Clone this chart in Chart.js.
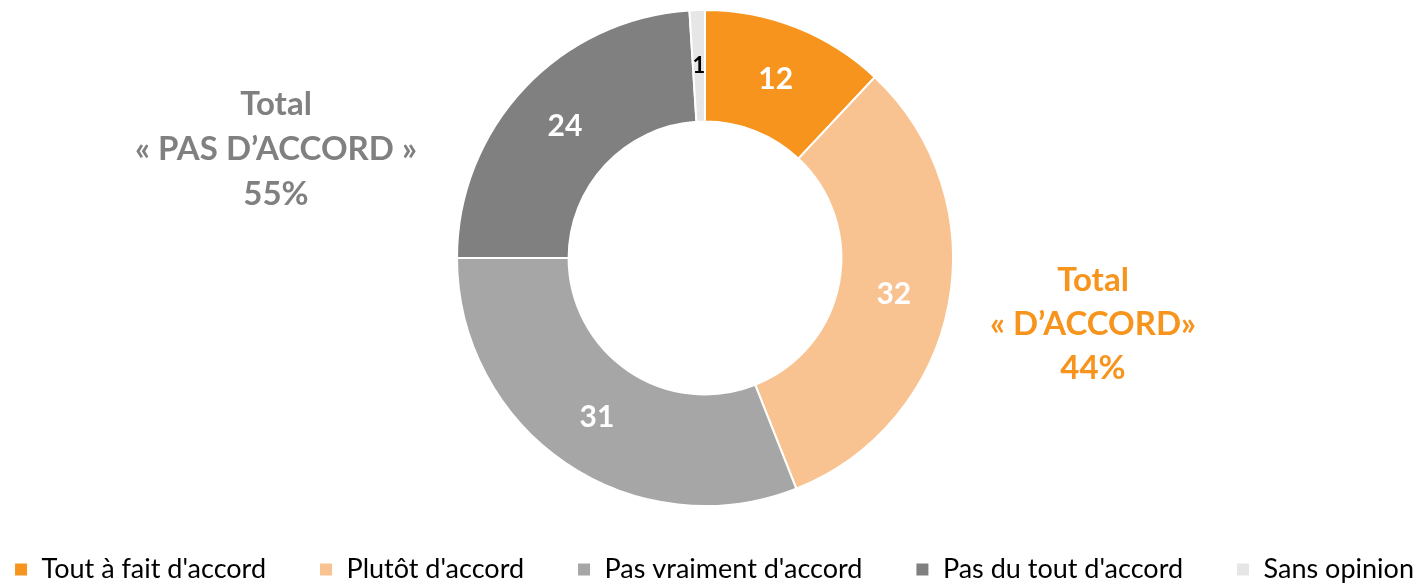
<!DOCTYPE html>
<html>
<head>
<meta charset="utf-8">
<script src="https://cdn.jsdelivr.net/npm/chart.js@4/dist/chart.umd.min.js"></script>
<style>
  html, body { margin: 0; padding: 0; background: #fff; overflow: hidden; }
  #wrap { width: 1422px; height: 583px; position: relative; margin-left: -6px; }
</style>
</head>
<body>
<div id="wrap"><canvas id="chartAccord"></canvas></div>
<script>
const categories = ["Tout à fait d'accord", "Plutôt d'accord", "Pas vraiment d'accord", "Pas du tout d'accord", "Sans opinion"];
const values = [12, 32, 31, 24, 1];
const colors = ['#F7941D', '#F9C291', '#A6A6A6', '#808080', '#E6E6E6'];
const labelColors = ['#fff', '#fff', '#fff', '#fff', '#000'];

const totalPas = ['Total', '« PAS D’ACCORD »', '55%'];
const totalAccord = ['Total', '« D’ACCORD»', '44%'];

const FONT = 'Lato, "Open Sans", sans-serif';

// Werte in die Segmente + die zwei Total-Texte
const textPlugin = {
  id: 'texte',
  afterDatasetsDraw(chart) {
    const ctx = chart.ctx;
    const meta = chart.getDatasetMeta(0);
    ctx.save();
    ctx.textAlign = 'center';
    ctx.textBaseline = 'middle';
    meta.data.forEach((arc, i) => {
      const p = arc.tooltipPosition();
      ctx.fillStyle = labelColors[i];
      ctx.font = (i === 4 ? 'bold 22px ' : 'bold 30px ') + FONT;
      ctx.fillText(values[i], p.x, p.y);
    });

    ctx.font = 'bold 33px ' + FONT;
    ctx.fillStyle = '#808080';
    totalPas.forEach((t, i) => ctx.fillText(t, 282, 104 + i * 45));
    ctx.fillStyle = '#F7941D';
    totalAccord.forEach((t, i) => ctx.fillText(t, 1099, 280 + i * 44));
    ctx.restore();
  }
};

new Chart(document.getElementById('chartAccord'), {
  type: 'doughnut',
  data: {
    labels: categories,
    datasets: [{
      data: values,
      backgroundColor: colors,
      borderColor: '#fff',
      borderWidth: 2,
      radius: 248,
      cutout: '55%',
      clip: false
    }]
  },
  options: {
    responsive: true,
    maintainAspectRatio: false,
    animation: false,
    layout: { autoPadding: false, padding: { top: 13, bottom: -10, left: -46, right: -64 } },
    plugins: {
      tooltip: { enabled: false },
      legend: {
        position: 'bottom',
        labels: {
          color: '#000',
          font: { family: FONT, size: 27 },
          boxWidth: 14,
          boxHeight: 14,
          padding: 53
        }
      }
    }
  },
  plugins: [textPlugin]
});
</script>
</body>
</html>
